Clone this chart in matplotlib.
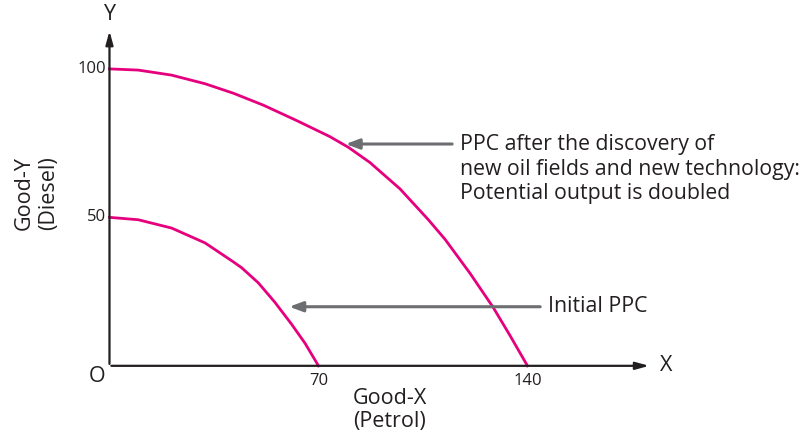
import matplotlib.pyplot as plt

# points (good-x, good-y)
outer_x = [0, 9.6, 20.8, 32.0, 41.5, 51.5, 62.7, 73.8, 80.0, 87.2, 97.3, 106.8, 112.4, 120.8, 128.5, 134.1, 140]
outer_y = [100, 99.6, 97.9, 95.0, 91.8, 87.8, 82.6, 77.2, 73.6, 68.5, 59.6, 49.2, 42.6, 31.1, 19.7, 10.3, 0]
inner_x = [0, 9.6, 20.8, 32.0, 41.5, 44.3, 49.8, 55.4, 61.0, 65.5, 70]
inner_y = [50, 49.2, 46.4, 41.4, 35.0, 33.0, 28.0, 21.4, 14.0, 7.6, 0]
y_ticks = [100, 50]
x_ticks = [70, 140]

plt.rcParams['font.family'] = ['Open Sans', 'DejaVu Sans']
pink = "#e6007e"
grey = "#6d6e71"
ink = "#231f20"

fig = plt.figure(figsize=(8.09, 4.34), dpi=100)
ax = fig.add_axes([0, 0, 1, 1])
ax.set_xlim(-36.67, 234.3)
ax.set_ylim(-22.96, 123.2)
ax.axis("off")

# axes with arrow heads
ax.annotate("", xy=(0, 113.7), xytext=(0, -0.3),
            arrowprops=dict(arrowstyle="-|>,head_length=0.8,head_width=0.22", color=ink, lw=1.6))
ax.annotate("", xy=(181.7, 0), xytext=(-0.3, 0),
            arrowprops=dict(arrowstyle="-|>,head_length=0.8,head_width=0.22", color=ink, lw=1.6))

ax.plot(outer_x, outer_y, color=pink, lw=2, solid_joinstyle="round")
ax.plot(inner_x, inner_y, color=pink, lw=2, solid_joinstyle="round")

for v in y_ticks:
    ax.text(-1.2, v, str(v), ha="right", va="center", fontsize=12, color=ink)
for v in x_ticks:
    ax.text(v, -5.2, str(v), ha="center", va="center", fontsize=12, color=ink)

ax.text(0.2, 118.3, "Y", ha="center", va="center", fontsize=15.5, color=ink)
ax.text(184.5, 0, "X", ha="left", va="center", fontsize=15.5, color=ink)
ax.text(-4.3, -3.6, "O", ha="center", va="center", fontsize=15.5, color=ink)

ax.text(93.9, -14.8, "Good-X\n(Petrol)", ha="center", va="center", fontsize=15.5,
        color=ink, linespacing=1.15)
ax.text(-24.5, 58.2, "Good-Y\n(Diesel)", ha="center", va="center", fontsize=15.5,
        color=ink, rotation=90, linespacing=1.2)

arrow = dict(arrowstyle="-|>,head_length=0.8,head_width=0.3", color=grey, lw=2.2)
ax.annotate("", xy=(78.2, 74.7), xytext=(115.7, 74.7), arrowprops=arrow)
ax.text(117.4, 66.2, "PPC after the discovery of\nnew oil fields and new technology:\nPotential output is doubled",
        ha="left", va="center", fontsize=15.3, color=ink, linespacing=1.22)
ax.annotate("", xy=(59.3, 19.9), xytext=(145.2, 19.9), arrowprops=arrow)
ax.text(146.9, 20.1, "Initial PPC", ha="left", va="center", fontsize=15.3, color=ink)

fig.savefig("out.png", dpi=100)
